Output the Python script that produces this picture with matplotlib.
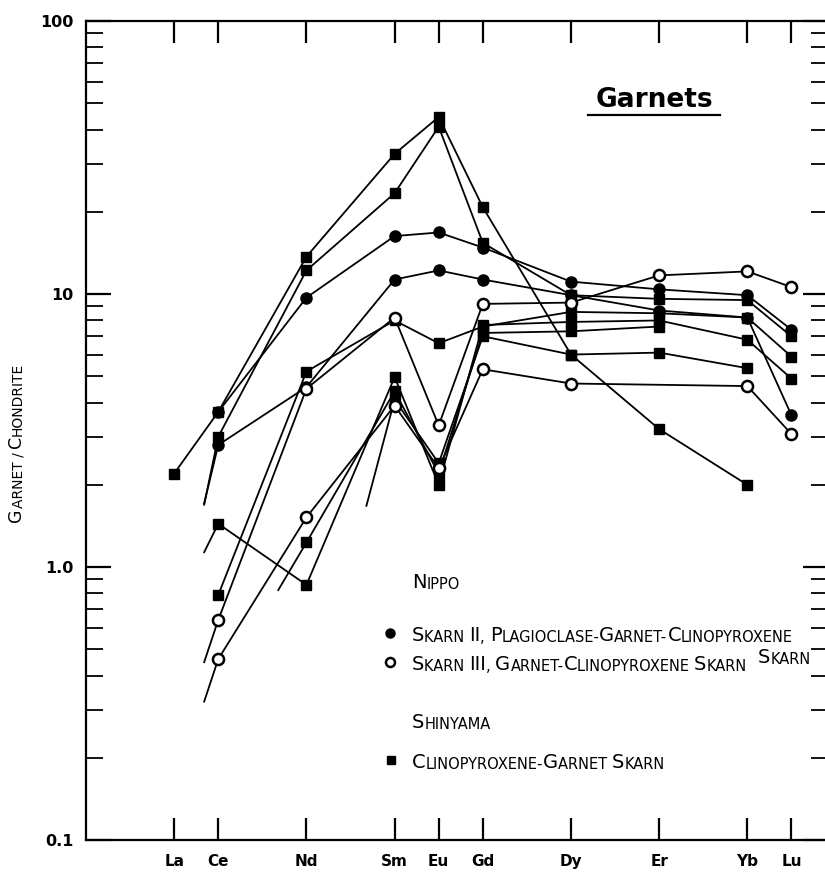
import numpy as np
import matplotlib
matplotlib.use('Agg')
import matplotlib.pyplot as plt
from matplotlib.ticker import FixedLocator, FixedFormatter, NullFormatter
from matplotlib.lines import Line2D

# ---------------- data ----------------
elements = ['La', 'Ce', 'Nd', 'Sm', 'Eu', 'Gd', 'Dy', 'Er', 'Yb', 'Lu']
atomic_numbers = [57, 58, 60, 62, 63, 64, 66, 68, 70, 71]
N = None

# Nippo, Skarn II (filled circles)
skarn2_a = [N, 3.7, 9.7, 16.3, 16.8, 14.8, 11.1, 10.4, 9.9, 7.4]
skarn2_b = [N, 2.8, 4.56, 11.3, 12.2, 11.3, 9.9, 8.7, 8.2, 3.6]
# Nippo, Skarn III (open circles)
skarn3_a = [N, 0.64, 4.5, 8.2, 3.3, 9.2, 9.3, 11.7, 12.1, 10.6]
skarn3_b = [N, 0.46, 1.52, 3.9, 2.3, 5.3, 4.7, N, 4.6, 3.07]
# Shinyama (filled squares)
shin_a = [2.2, 3.7, 13.7, 32.6, 44.5, 20.8, 6.0, 3.2, 2.0, N]
shin_b = [N, 3.0, 12.2, 23.4, 41.0, 15.4, 9.9, 9.6, 9.5, 7.0]
shin_c = [N, 0.79, 5.2, 8.0, 6.6, 7.6, 8.6, 8.5, 8.2, 5.9]
shin_d = [N, 1.44, 0.86, 4.96, 2.0, 7.7, 7.9, 8.0, 6.8, 4.9]
shin_e = [N, N, 1.23, 4.4, 2.2, 7.2, 7.3, 7.6, N, N]
shin_f = [N, N, N, 4.1, 2.4, 7.0, 6.0, 6.1, 5.35, N]

# value at the preceding element for lines that enter from the left (drawn as short lead-ins)
lead_skarn2_b = 0.6
lead_skarn3_a = 0.21
lead_skarn3_b = 0.15
lead_shin_b = 0.5
lead_shin_d = 0.68
lead_shin_e = 0.35
lead_shin_f = 0.25

y_tick_values = [0.1, 1.0, 10, 100]
y_tick_labels = ['0.1', '1.0', '10', '100']

# ---------------- figure ----------------
W, H = 825, 877
fig = plt.figure(figsize=(W / 100, H / 100), dpi=100)
fig.patch.set_facecolor('white')
ax = fig.add_axes([86 / W, 37 / H, 742 / W, 819 / H])
ax.set_yscale('log')
ax.set_xlim(55, 71.83)
ax.set_ylim(0.1, 100)

LW = 1.3
styles = {
    'filled': dict(marker='o', ms=8, mfc='black', mec='black', mew=1.0),
    'open': dict(marker='o', ms=8, mfc='white', mec='black', mew=1.8),
    'square': dict(marker='s', ms=7, mfc='black', mec='black', mew=1.0),
}

series = [
    (shin_a, 'square', None, 2),
    (shin_b, 'square', lead_shin_b, 2),
    (shin_c, 'square', None, 2),
    (shin_d, 'square', lead_shin_d, 2),
    (shin_e, 'square', lead_shin_e, 2),
    (shin_f, 'square', lead_shin_f, 2),
    (skarn2_a, 'filled', None, 3),
    (skarn2_b, 'filled', lead_skarn2_b, 3),
    (skarn3_a, 'open', lead_skarn3_a, 4),
    (skarn3_b, 'open', lead_skarn3_b, 4),
]

for vals, kind, lead, z in series:
    idx = [i for i, v in enumerate(vals) if v is not None]
    xs = [atomic_numbers[i] for i in idx]
    ys = [vals[i] for i in idx]
    ax.plot(xs, ys, color='black', lw=LW, zorder=z, **styles[kind])
    if lead is not None:
        i0 = idx[0]
        xp, x1 = atomic_numbers[i0 - 1], atomic_numbers[i0]
        t = 0.68
        x0 = xp + t * (x1 - xp)
        y0 = 10 ** (np.log10(lead) + t * (np.log10(vals[i0]) - np.log10(lead)))
        ax.plot([x0, x1], [y0, vals[i0]], color='black', lw=LW, zorder=z - 0.5)

# ---------------- axes styling ----------------
for sp in ax.spines.values():
    sp.set_linewidth(1.6)
ax.spines['right'].set_visible(False)

ax.xaxis.set_major_locator(FixedLocator(atomic_numbers))
ax.xaxis.set_major_formatter(FixedFormatter(elements))
ax.xaxis.set_minor_locator(FixedLocator([]))
ax.tick_params(axis='x', which='major', direction='in', top=True, bottom=True,
               length=16, width=1.6, pad=10, labelsize=11)

ax.yaxis.set_major_locator(FixedLocator(y_tick_values))
ax.yaxis.set_major_formatter(FixedFormatter(y_tick_labels))
minors = [m * d for d in (0.1, 1, 10) for m in range(2, 10)]
ax.yaxis.set_minor_locator(FixedLocator(minors))
ax.yaxis.set_minor_formatter(NullFormatter())
ax.tick_params(axis='y', which='major', direction='in', left=True, right=True,
               length=18, width=1.6, pad=9, labelsize=11.5)
ax.tick_params(axis='y', which='minor', direction='in', left=True, right=True,
               length=12, width=1.3)
for lab in ax.get_xticklabels() + ax.get_yticklabels():
    lab.set_fontweight('bold')
    lab.set_family('DejaVu Sans')

# ---------------- small-caps text helper ----------------
FAM = ['Liberation Sans Narrow', 'DejaVu Sans']


def smallcaps(x_img, y_img, s, big, small, rotation=0):
    runs = []
    for ch in s:
        sz = big if ch.isupper() else small
        if runs and runs[-1][1] == sz:
            runs[-1][0] += ch.upper()
        else:
            runs.append([ch.upper(), sz])
    prev = None
    for txt, sz in runs:
        if prev is None:
            t = ax.annotate(txt, xy=(x_img, H - y_img), xycoords='figure pixels',
                            ha='left', va='bottom', fontsize=sz, family=FAM,
                            rotation=rotation, rotation_mode='anchor',
                            annotation_clip=False)
        else:
            corner = (1, 1) if rotation == 90 else (1, 0)
            t = ax.annotate(txt, xy=corner, xycoords=prev,
                            ha='left', va='bottom', fontsize=sz, family=FAM,
                            rotation=rotation, rotation_mode='anchor',
                            annotation_clip=False)
        prev = t


# y label
smallcaps(25, 522, 'Garnet / Chondrite', 12.5, 10, rotation=90)

# legend
BIG, SMALL = 14, 10.5
smallcaps(412, 592, 'Nippo', BIG, SMALL)
smallcaps(412, 645, 'Skarn II, Plagioclase-Garnet-Clinopyroxene', BIG, SMALL)
smallcaps(758, 667, 'Skarn', BIG, SMALL)
smallcaps(412, 674, 'Skarn III, Garnet-Clinopyroxene Skarn', BIG, SMALL)
smallcaps(412, 732, 'Shinyama', BIG, SMALL)
smallcaps(412, 772, 'Clinopyroxene-Garnet Skarn', BIG, SMALL)

for (xi, yi), kind in [((390, 633), 'filled'), ((390, 662), 'open'), ((391, 760), 'square')]:
    st = dict(styles[kind])
    st['ms'] = st['ms'] - 1.5
    fig.add_artist(Line2D([xi / W], [(H - yi) / H], transform=fig.transFigure,
                          color='black', linestyle='none', **st))

# title
title = fig.text(654 / W, (H - 100) / H, 'Garnets', ha='center', va='center',
                 fontsize=19, fontweight='bold', family='DejaVu Sans')
fig.add_artist(Line2D([588 / W, 720 / W], [(H - 115) / H] * 2,
                      transform=fig.transFigure, color='black', lw=1.6))

fig.savefig('out.png', dpi=100, facecolor='white')
